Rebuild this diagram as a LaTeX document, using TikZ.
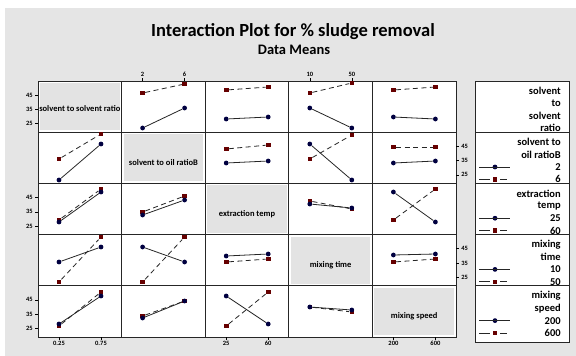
\documentclass[tikz,border=0pt]{standalone}
\usepackage{fontspec}
\setmainfont{Carlito}
\usetikzlibrary{arrows}

\begin{document}
\begin{tikzpicture}[x=1pt,y=-1pt,semithick,font=\bfseries]
  \tikzstyle{dot}=[circle,fill=blue!25!black,inner sep=0pt,minimum size=4.8pt]
  \tikzstyle{sqr}=[rectangle,fill=red!40!black,inner sep=0pt,minimum size=4.6pt]
  \tikzstyle{trace}=[line width=0.8pt,black!85]
  \tikzstyle{dtrace}=[trace,dash pattern=on 5pt off 3.5pt]
  \tikzstyle{panel}=[draw=black!85,fill=white,line width=0.75pt]
  \tikzstyle{facbox}=[fill=black!11]
  \tikzstyle{ticklab}=[inner sep=1pt,font=\fontsize{6.5}{7}\selectfont\bfseries]
  \tikzstyle{leglab}=[anchor=east,inner sep=0pt,font=\fontsize{10.5}{12}\selectfont\bfseries]

  \useasboundingbox (0,0) rectangle (576,356);
  \fill[black!10] (5,8) rectangle (576,356);

  \node (title) at (293,32) {\fontsize{18.5}{20}\selectfont Interaction Plot for \% sludge removal};
  \node (sub)   at (294,50) {\fontsize{14.5}{16}\selectfont Data Means};

  % 5x5 panels
  \foreach \r in {1,...,5}
    \foreach \c in {1,...,5}
      \draw[panel] ({38+(\c-1)*83.6},{81+(\r-1)*51.2}) rectangle +(83.6,51.2);

  % factor names on the diagonal
  \foreach \i/\dy/\lab in {1/1.5/solvent to solvent ratio,2/5/solvent to oil ratioB,
                           3/5/extraction temp,4/5/mixing time,5/5/mixing speed} {
    \fill[facbox] ({38+(\i-1)*83.6+2},{81+(\i-1)*51.2+2}) rectangle +(79.6,47.2);
    \node[font=\fontsize{8.5}{9}\selectfont\bfseries,inner sep=0pt] (fac\i)
      at ({38+(\i-0.5)*83.6},{81+(\i-0.5)*51.2+\dy}) {\lab};
  }

  % means: row/col/dot lo/dot hi/square lo/square hi
  \foreach \r/\c/\ya/\yb/\za/\zb in {
      1/2/128/108/93/84, 1/3/119/117/90/87, 1/4/108/128/93/83, 1/5/117/119/90/87,
      2/1/180/144/159/134, 2/3/163/161/149/145, 2/4/144/180/159/135, 2/5/163/161/147/147,
      3/1/222/192/220/189, 3/2/215/200/212/196, 3/4/204/208/201/209, 3/5/192/222/220/189,
      4/1/262/247/282/237, 4/2/247/262/282/237, 4/3/256/254/262/259, 4/5/255/254/262/259,
      5/1/324/296/326/292, 5/2/318/301/316/301, 5/3/296/324/326/292, 5/4/307/310/307/312} {
    \pgfmathsetmacro\xa{38+(\c-1)*83.6+21}
    \node[sqr] (s\r\c a) at (\xa,\za) {};
    \node[sqr] (s\r\c b) at (\xa+42,\zb) {};
    \node[dot] (c\r\c a) at (\xa,\ya) {};
    \node[dot] (c\r\c b) at (\xa+42,\yb) {};
    \draw[dtrace] (s\r\c a) -- (s\r\c b);
    \draw[trace] (c\r\c a) -- (c\r\c b);
  }

  % y ticks, left and right
  \foreach \r in {1,3,5}
    \foreach \v in {25,35,45} {
      \pgfmathsetmacro\yv{81+(\r-1)*51.2+14+(45-\v)*1.43}
      \draw[thin] (38,\yv) -- (35,\yv);
      \node[ticklab,anchor=east] (yl\r\v) at (34,\yv) {\v};
    }
  \foreach \r in {2,4}
    \foreach \v in {25,35,45} {
      \pgfmathsetmacro\yv{81+(\r-1)*51.2+14+(45-\v)*1.43}
      \draw[thin] (456,\yv) -- (459,\yv);
      \node[ticklab,anchor=west] (yr\r\v) at (460,\yv) {\v};
    }

  % x ticks, bottom and top
  \foreach \c/\lo/\hi in {1/0.25/0.75,3/25/60,5/200/600} {
    \pgfmathsetmacro\xa{38+(\c-1)*83.6+21}
    \draw[thin] (\xa,337) -- (\xa,340);
    \draw[thin] (\xa+42,337) -- (\xa+42,340);
    \node[ticklab,anchor=north] (xb\c a) at (\xa,340) {\lo};
    \node[ticklab,anchor=north] (xb\c b) at (\xa+42,340) {\hi};
  }
  \foreach \c/\lo/\hi in {2/2/6,4/10/50} {
    \pgfmathsetmacro\xa{38+(\c-1)*83.6+21}
    \draw[thin] (\xa,81) -- (\xa,78);
    \draw[thin] (\xa+42,81) -- (\xa+42,78);
    \node[ticklab,anchor=south] (xt\c a) at (\xa,78) {\lo};
    \node[ticklab,anchor=south] (xt\c b) at (\xa+42,78) {\hi};
  }

  % legend
  \draw[panel] (475,81) rectangle (569,342);
  \foreach \y in {132.2,183.4,234.6,285.8}
    \draw[panel] (475,\y) -- (569,\y);
  \foreach \k/\txt in {0/solvent,1/to,2/solvent,3/ratio}
    \node[leglab] (head1\k) at (561,{91+\k*12.4}) {\txt};
  \foreach \r/\ta/\tb/\lo/\hi in {2/solvent to/oil ratioB/2/6, 3/extraction/temp/25/60,
                                  4/mixing/time/10/50, 5/mixing/speed/200/600} {
    \pgfmathsetmacro\yt{81+(\r-1)*51.2+10}
    \node[leglab] (head\r a) at (561,\yt) {\ta};
    \node[leglab] (head\r b) at (561,\yt+12.4) {\tb};
    \node[leglab] (lev\r a) at (561,\yt+24.8) {\lo};
    \node[leglab] (lev\r b) at (561,\yt+37.2) {\hi};
    \node[dot] (key\r a) at (495,\yt+24.8) {};
    \node[sqr] (key\r b) at (495,\yt+37.2) {};
    \coordinate (key\r aw) at (479,\yt+24.8);
    \coordinate (key\r ae) at (510,\yt+24.8);
    \coordinate (key\r bw) at (479,\yt+37.2);
    \coordinate (key\r be) at (507,\yt+37.2);
    \draw[trace] (key\r aw) -- (key\r ae);
    \draw[trace,shorten >=2.5pt] (key\r bw) -- (key\r b);
    \draw[trace,shorten <=2.5pt] (key\r b) -- (key\r be);
  }
\end{tikzpicture}
\end{document}
